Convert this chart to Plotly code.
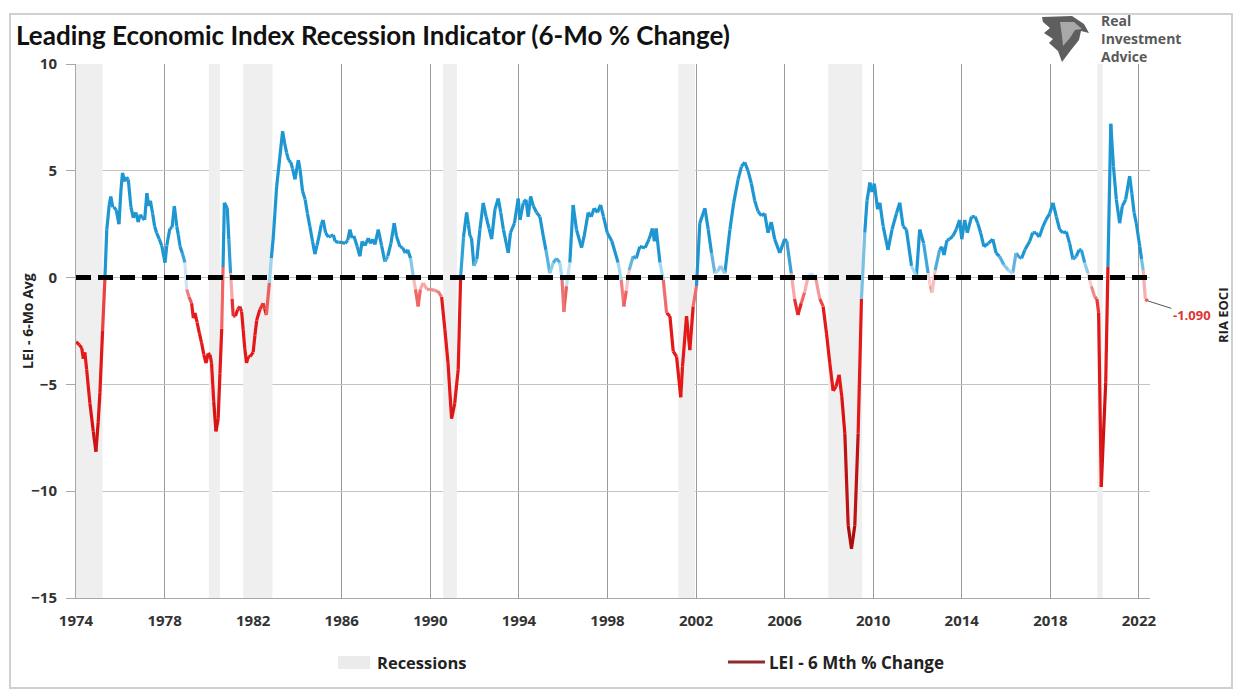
import plotly.graph_objects as go

# ---------------- data ----------------
years = [
    1974.00, 1974.15, 1974.26, 1974.33, 1974.40, 1974.48, 1974.63, 1974.78, 1974.90, 1975.00,
    1975.08, 1975.20, 1975.31, 1975.39, 1975.50, 1975.57, 1975.66, 1975.72, 1975.82, 1975.94,
    1976.03, 1976.10, 1976.20, 1976.28, 1976.36, 1976.48, 1976.59, 1976.70, 1976.81, 1976.90,
    1977.00, 1977.10, 1977.20, 1977.28, 1977.36, 1977.46, 1977.55, 1977.64, 1977.76, 1977.87,
    1978.02, 1978.10, 1978.24, 1978.34, 1978.44, 1978.55, 1978.62, 1978.70, 1978.80, 1978.92,
    1979.00, 1979.10, 1979.22, 1979.30, 1979.37, 1979.47, 1979.57, 1979.67, 1979.77, 1979.87,
    1979.97, 1980.05, 1980.12, 1980.22, 1980.32, 1980.42, 1980.50, 1980.58, 1980.64, 1980.70,
    1980.83, 1980.90, 1980.98, 1981.05, 1981.10, 1981.20, 1981.30, 1981.40, 1981.48, 1981.55,
    1981.62, 1981.70, 1981.78, 1981.86, 1982.00, 1982.08, 1982.16, 1982.30, 1982.45, 1982.52,
    1982.60, 1982.73, 1982.82, 1982.91, 1983.06, 1983.20, 1983.33, 1983.42, 1983.51, 1983.60,
    1983.70, 1983.78, 1983.89, 1984.04, 1984.12, 1984.23, 1984.35, 1984.45, 1984.56, 1984.68,
    1984.79, 1984.88, 1984.98, 1985.08, 1985.16, 1985.27, 1985.40, 1985.50, 1985.62, 1985.70,
    1985.85, 1986.00, 1986.15, 1986.27, 1986.37, 1986.47, 1986.55, 1986.70, 1986.82, 1986.92,
    1987.05, 1987.20, 1987.30, 1987.40, 1987.50, 1987.65, 1987.80, 1987.95, 1988.08, 1988.22,
    1988.37, 1988.47, 1988.63, 1988.75, 1988.87, 1988.98, 1989.11, 1989.23, 1989.33, 1989.45,
    1989.55, 1989.68, 1989.85, 1990.00, 1990.20, 1990.35, 1990.51, 1990.66, 1990.80, 1990.96,
    1991.10, 1991.26, 1991.37, 1991.50, 1991.64, 1991.72, 1991.79, 1991.86, 1991.97, 1992.10,
    1992.24, 1992.39, 1992.52, 1992.65, 1992.77, 1992.92, 1993.07, 1993.18, 1993.30, 1993.52,
    1993.62, 1993.80, 1993.97, 1994.05, 1994.20, 1994.32, 1994.42, 1994.53, 1994.65, 1994.80,
    1994.95, 1995.10, 1995.22, 1995.40, 1995.55, 1995.70, 1995.85, 1995.95, 1996.03, 1996.15,
    1996.30, 1996.45, 1996.60, 1996.83, 1996.95, 1997.13, 1997.27, 1997.40, 1997.55, 1997.69,
    1997.82, 1997.99, 1998.20, 1998.48, 1998.62, 1998.74, 1998.85, 1998.98, 1999.16, 1999.30,
    1999.46, 1999.70, 1999.88, 2000.03, 2000.12, 2000.20, 2000.37, 2000.52, 2000.67, 2000.82,
    2000.97, 2001.12, 2001.31, 2001.39, 2001.57, 2001.72, 2001.87, 2002.02, 2002.17, 2002.40,
    2002.55, 2002.70, 2002.85, 2002.98, 2003.10, 2003.30, 2003.53, 2003.70, 2003.90, 2004.05,
    2004.20, 2004.35, 2004.50, 2004.65, 2004.80, 2004.95, 2005.10, 2005.25, 2005.40, 2005.55,
    2005.78, 2006.00, 2006.10, 2006.30, 2006.45, 2006.60, 2006.75, 2006.90, 2007.05, 2007.20,
    2007.40, 2007.59, 2007.74, 2007.89, 2008.04, 2008.19, 2008.32, 2008.46, 2008.58, 2008.72,
    2008.87, 2009.02, 2009.17, 2009.32, 2009.47, 2009.62, 2009.72, 2009.85, 2009.95, 2010.05,
    2010.20, 2010.30, 2010.45, 2010.67, 2010.85, 2011.05, 2011.20, 2011.35, 2011.50, 2011.73,
    2011.95, 2012.10, 2012.28, 2012.48, 2012.58, 2012.66, 2012.80, 2013.00, 2013.10, 2013.20,
    2013.33, 2013.45, 2013.60, 2013.75, 2013.90, 2014.00, 2014.13, 2014.25, 2014.44, 2014.60,
    2014.72, 2014.85, 2015.00, 2015.20, 2015.40, 2015.55, 2015.70, 2015.90, 2016.10, 2016.30,
    2016.45, 2016.55, 2016.70, 2016.85, 2017.07, 2017.20, 2017.35, 2017.50, 2017.67, 2017.80,
    2017.97, 2018.12, 2018.27, 2018.42, 2018.57, 2018.72, 2018.87, 2019.02, 2019.17, 2019.30,
    2019.40, 2019.55, 2019.70, 2019.85, 2020.00, 2020.10, 2020.18, 2020.30, 2020.50, 2020.60,
    2020.73, 2020.85, 2020.98, 2021.13, 2021.25, 2021.40, 2021.58, 2021.68, 2021.78, 2021.88,
    2022.04, 2022.12, 2022.19, 2022.29, 2022.40,
]
lei_6m = [
    -3.0, -3.15, -3.3, -3.8, -3.5, -4.3, -5.9, -7.2, -8.15, -6.8,
    -5.4, -2.5, 0.06, 2.25, 3.4, 3.8, 3.3, 3.3, 3.15, 2.5,
    4.1, 4.9, 4.5, 4.7, 4.6, 3.3, 2.8, 3.05, 2.6, 2.95,
    2.8, 2.7, 3.95, 3.35, 3.6, 3.0, 2.4, 2.1, 1.8, 1.5,
    0.7, 1.5, 2.3, 2.35, 3.35, 2.4, 2.0, 1.45, 1.15, 0.7,
    -0.55, -0.9, -1.2, -1.9, -1.65, -2.1, -2.6, -3.05, -3.6, -4.0,
    -3.55, -3.6, -4.0, -5.8, -7.2, -6.6, -4.5, -2.4, 0.5, 3.5,
    3.25, 1.8, 0.2, -1.0, -1.8, -1.8, -1.5, -1.35, -1.6, -2.45,
    -3.3, -4.0, -3.7, -3.7, -3.5, -2.7, -2.0, -1.5, -1.2, -1.45,
    -1.75, -0.25, 0.9, 1.9, 4.25, 5.6, 6.85, 6.3, 5.85, 5.5,
    5.4, 5.1, 4.6, 5.5, 5.05, 4.05, 3.65, 3.0, 2.4, 1.7,
    1.1, 1.5, 1.95, 2.5, 2.7, 2.1, 1.9, 1.95, 2.0, 1.7,
    1.65, 1.65, 1.6, 1.75, 2.25, 1.85, 1.95, 1.45, 1.0, 1.7,
    1.5, 1.85, 1.6, 1.8, 1.55, 2.25, 1.5, 0.75, 1.0, 1.6,
    2.55, 1.95, 1.45, 1.4, 1.15, 1.3, 0.9, 0.05, -0.55, -1.35,
    -0.55, -0.25, -0.55, -0.55, -0.6, -0.65, -0.9, -2.45, -4.0, -6.6,
    -5.9, -4.3, 0.05, 1.9, 3.05, 2.5, 1.95, 1.85, 0.55, 0.85,
    2.25, 3.5, 2.85, 2.3, 1.8, 3.2, 3.7, 3.05, 2.25, 1.15,
    2.1, 2.55, 3.7, 2.7, 3.5, 3.65, 2.85, 3.8, 3.35, 3.05,
    2.85, 1.95, 1.3, 0.2, 0.7, 0.9, 0.7, -0.1, -1.6, -0.4,
    0.7, 3.4, 2.25, 1.4, 1.95, 3.05, 2.85, 3.25, 3.05, 3.4,
    2.85, 2.1, 1.7, 0.7, -0.1, -1.35, -0.6, 0.35, 1.0, 0.9,
    1.45, 1.4, 1.8, 2.3, 1.7, 2.3, 0.7, -0.1, -1.65, -1.8,
    -3.45, -3.7, -5.6, -4.15, -1.8, -3.4, -1.35, -0.4, 2.55, 3.25,
    2.25, 1.15, 0.2, 0.3, 0.55, 0.2, 2.25, 3.5, 4.6, 5.2,
    5.4, 5.0, 4.4, 3.6, 3.1, 2.9, 3.0, 2.1, 2.6, 1.8,
    1.15, 1.8, 1.7, 0.2, -1.0, -1.75, -1.2, -0.7, 0.0, 0.2,
    0.0, -1.0, -1.35, -2.6, -4.0, -5.3, -5.1, -4.55, -5.55, -7.3,
    -11.6, -12.7, -11.6, -7.3, -1.0, 2.1, 3.6, 4.45, 4.0, 4.4,
    3.2, 3.5, 2.4, 1.3, 2.25, 3.0, 3.5, 2.4, 2.25, 0.55,
    0.05, 2.25, 1.6, 0.2, -0.4, -0.7, 0.35, 1.3, 1.45, 1.05,
    1.75, 1.8, 1.95, 2.25, 2.7, 1.8, 2.7, 2.1, 2.85, 2.85,
    2.55, 2.1, 1.45, 1.6, 1.8, 1.15, 1.0, 0.6, 0.35, 0.2,
    1.15, 1.0, 0.9, 1.3, 1.7, 2.1, 2.1, 1.9, 2.4, 2.7,
    3.0, 3.5, 2.85, 2.25, 2.1, 2.15, 1.6, 0.85, 1.0, 1.3,
    1.3, 0.7, 0.2, -0.4, -0.9, -1.0, -1.65, -9.8, -4.9, 0.5,
    7.2, 5.2, 3.65, 2.55, 3.35, 3.65, 4.75, 3.95, 3.05, 2.55,
    1.45, 0.85, 0.35, -1.0, -1.09,
]
recession_start = [1974.0, 1980.0, 1981.55, 1990.58, 2001.2, 2007.97, 2020.12]
recession_end = [1975.2, 1980.5, 1982.87, 1991.2, 2001.95, 2009.5, 2020.36]
x_ticks = [1974, 1978, 1982, 1986, 1990, 1994, 1998, 2002, 2006, 2010, 2014, 2018, 2022]
left_ticks = [-15, -10, -5, 0, 5, 10]
right_ticks = [0, 12, 24, 36, 48, 60]
last_label = "-1.090"

# ---------------- layout helpers ----------------
# page pixel coordinates; the page body has an 8 px margin around the figure
OFF = 8
W, H = 1241 - OFF, 691 - OFF
X0, X1, Y0, Y1 = 76, 1150, 64, 598   # plot area in page pixels


def px(x):
    return (x - X0) / (X1 - X0)


def py(y):
    return (Y1 - y) / (Y1 - Y0)


def mix(c1, c2, t):
    return tuple(round(a + (b - a) * t) for a, b in zip(c1, c2))


def seg_color(v):
    if v >= 0:
        t = min(v / 1.1, 1.0)
        c = mix((214, 236, 247), (28, 150, 210), t)
    else:
        t = min(-v / 1.6, 1.0)
        c = mix((250, 214, 214), (228, 22, 22), t)
        if v < -5:
            s = min((-v - 5) / 7.0, 1.0)
            c = mix(c, (172, 14, 14), s)
    c = tuple(min(int(round(k / 6.0) * 6), 255) for k in c)
    return "rgb(%d,%d,%d)" % c


TFONT = "Lato"
FONT = "Open Sans"
fig = go.Figure()

groups = {}
order = []
for i in range(len(years) - 1):
    col = seg_color((lei_6m[i] + lei_6m[i + 1]) / 2.0)
    if col not in groups:
        groups[col] = ([], [])
        order.append(col)
    gx, gy = groups[col]
    gx += [years[i], years[i + 1], None]
    gy += [lei_6m[i], lei_6m[i + 1], None]
for col in order:
    gx, gy = groups[col]
    fig.add_trace(go.Scatter(x=gx, y=gy, mode="lines",
                             line=dict(color=col, width=3.2),
                             showlegend=False, hoverinfo="skip"))

shapes = []
for s, e in zip(recession_start, recession_end):
    shapes.append(dict(type="rect", xref="x", yref="y", x0=s, x1=e, y0=-15, y1=10,
                       fillcolor="#efefef", line=dict(width=0), layer="between"))
shapes.append(dict(type="line", xref="paper", yref="y", x0=0, x1=1, y0=0, y1=0,
                   line=dict(color="black", width=5, dash="15px,7px"), layer="above"))
shapes.append(dict(type="rect", xref="paper", yref="paper", x0=px(10), x1=px(1232),
                   y0=py(688), y1=py(14), line=dict(color="#d0d0d0", width=2),
                   fillcolor="rgba(0,0,0,0)", layer="below"))
shapes.append(dict(type="rect", xref="paper", yref="paper", x0=px(338), x1=px(370),
                   y0=py(669), y1=py(656), fillcolor="#ebebeb", line=dict(width=0)))
shapes.append(dict(type="line", xref="paper", yref="paper", x0=px(728), x1=px(765),
                   y0=py(662), y1=py(662), line=dict(color="#8e2c2c", width=3)))
# logo mark (stylised eagle head)
logo_outer = [(1042, 17), (1072, 16), (1084, 24), (1089, 33), (1081, 31), (1079, 40),
              (1071, 50), (1062, 62), (1058, 51), (1049, 43), (1053, 39), (1044, 33),
              (1050, 28), (1043, 22)]
logo_inner = [(1060, 22), (1074, 22), (1082, 29), (1075, 30), (1070, 38), (1063, 46),
              (1062, 36)]
for pts, colr in ((logo_outer, "#5e5e5e"), (logo_inner, "#a8a8a8")):
    path = "M " + " L ".join("%.5f,%.5f" % (px(a), py(b)) for a, b in pts) + " Z"
    shapes.append(dict(type="path", xref="paper", yref="paper", path=path,
                       fillcolor=colr, line=dict(width=0)))

ann = []
ann.append(dict(text="<b>Leading Economic Index Recession Indicator (6-Mo % Change)</b>",
                xref="paper", yref="paper", x=px(14), y=py(35), xanchor="left",
                yanchor="middle", showarrow=False,
                font=dict(family=TFONT, size=26, color="#111111")))
ann.append(dict(text="<b>Real<br>Investment<br>Advice</b>", xref="paper", yref="paper",
                x=px(1099), y=py(38), xanchor="left", yanchor="middle", align="left",
                showarrow=False, font=dict(family=FONT, size=14, color="#595959")))
ann.append(dict(text="<b>LEI - 6-Mo Avg</b>", xref="paper", yref="paper", x=px(27),
                y=py(321), xanchor="center", yanchor="middle", textangle=-90,
                showarrow=False, font=dict(family=FONT, size=14, color="#222222")))
ann.append(dict(text="<b>RIA EOCI</b>", xref="paper", yref="paper", x=px(1223),
                y=py(316), xanchor="center", yanchor="middle", textangle=-90,
                showarrow=False, font=dict(family=FONT, size=13, color="#222222")))
ann.append(dict(text="<b>%s</b>" % last_label, x=years[-1], y=lei_6m[-1], xref="x", yref="y",
                showarrow=True, arrowhead=0, arrowwidth=1, arrowcolor="#555555",
                ax=44, ay=14, font=dict(family=FONT, size=13, color="#e03434")))
ann.append(dict(text="<b>Recessions</b>", xref="paper", yref="paper", x=px(375), y=py(662),
                xanchor="left", yanchor="middle", showarrow=False,
                font=dict(family=FONT, size=16.5, color="#222222")))
ann.append(dict(text="<b>LEI - 6 Mth % Change</b>", xref="paper", yref="paper", x=px(767),
                y=py(662), xanchor="left", yanchor="middle", showarrow=False,
                font=dict(family=FONT, size=17, color="#222222")))

tickfont = dict(family=FONT, size=15, color="#333333", weight="bold")

fig.update_layout(
    width=W, height=H,
    margin=dict(l=X0 - OFF, r=W - (X1 - OFF), t=Y0 - OFF, b=H - (Y1 - OFF), pad=0),
    paper_bgcolor="white", plot_bgcolor="white",
    showlegend=False,
    shapes=shapes, annotations=ann,
    xaxis=dict(range=[1974, 2022.5], tickmode="array", tickvals=x_ticks,
               ticktext=[str(t) for t in x_ticks], showgrid=True, gridcolor="#9a9a9a",
               gridwidth=1, showline=True, linecolor="#a8a8a8", linewidth=1,
               ticks="outside", ticklen=9, tickcolor="rgba(0,0,0,0)",
               tickfont=tickfont, zeroline=False),
    yaxis=dict(range=[-15, 10], tickmode="array", tickvals=left_ticks,
               showgrid=True, gridcolor="#c4c4c4", gridwidth=1, showline=True,
               linecolor="#a8a8a8", linewidth=1, ticks="outside", ticklen=9,
               tickcolor="#a8a8a8", ticklabelstandoff=6, tickfont=tickfont, zeroline=False),
    yaxis2=dict(range=[0, 60], tickmode="array", tickvals=right_ticks, overlaying="y",
                side="right", showgrid=False, showline=True, linecolor="#a8a8a8",
                linewidth=1, ticks="outside", ticklen=5, tickcolor="#a8a8a8",
                ticklabelstandoff=5, tickfont=tickfont, zeroline=False),
)

fig.write_html("out.html")
